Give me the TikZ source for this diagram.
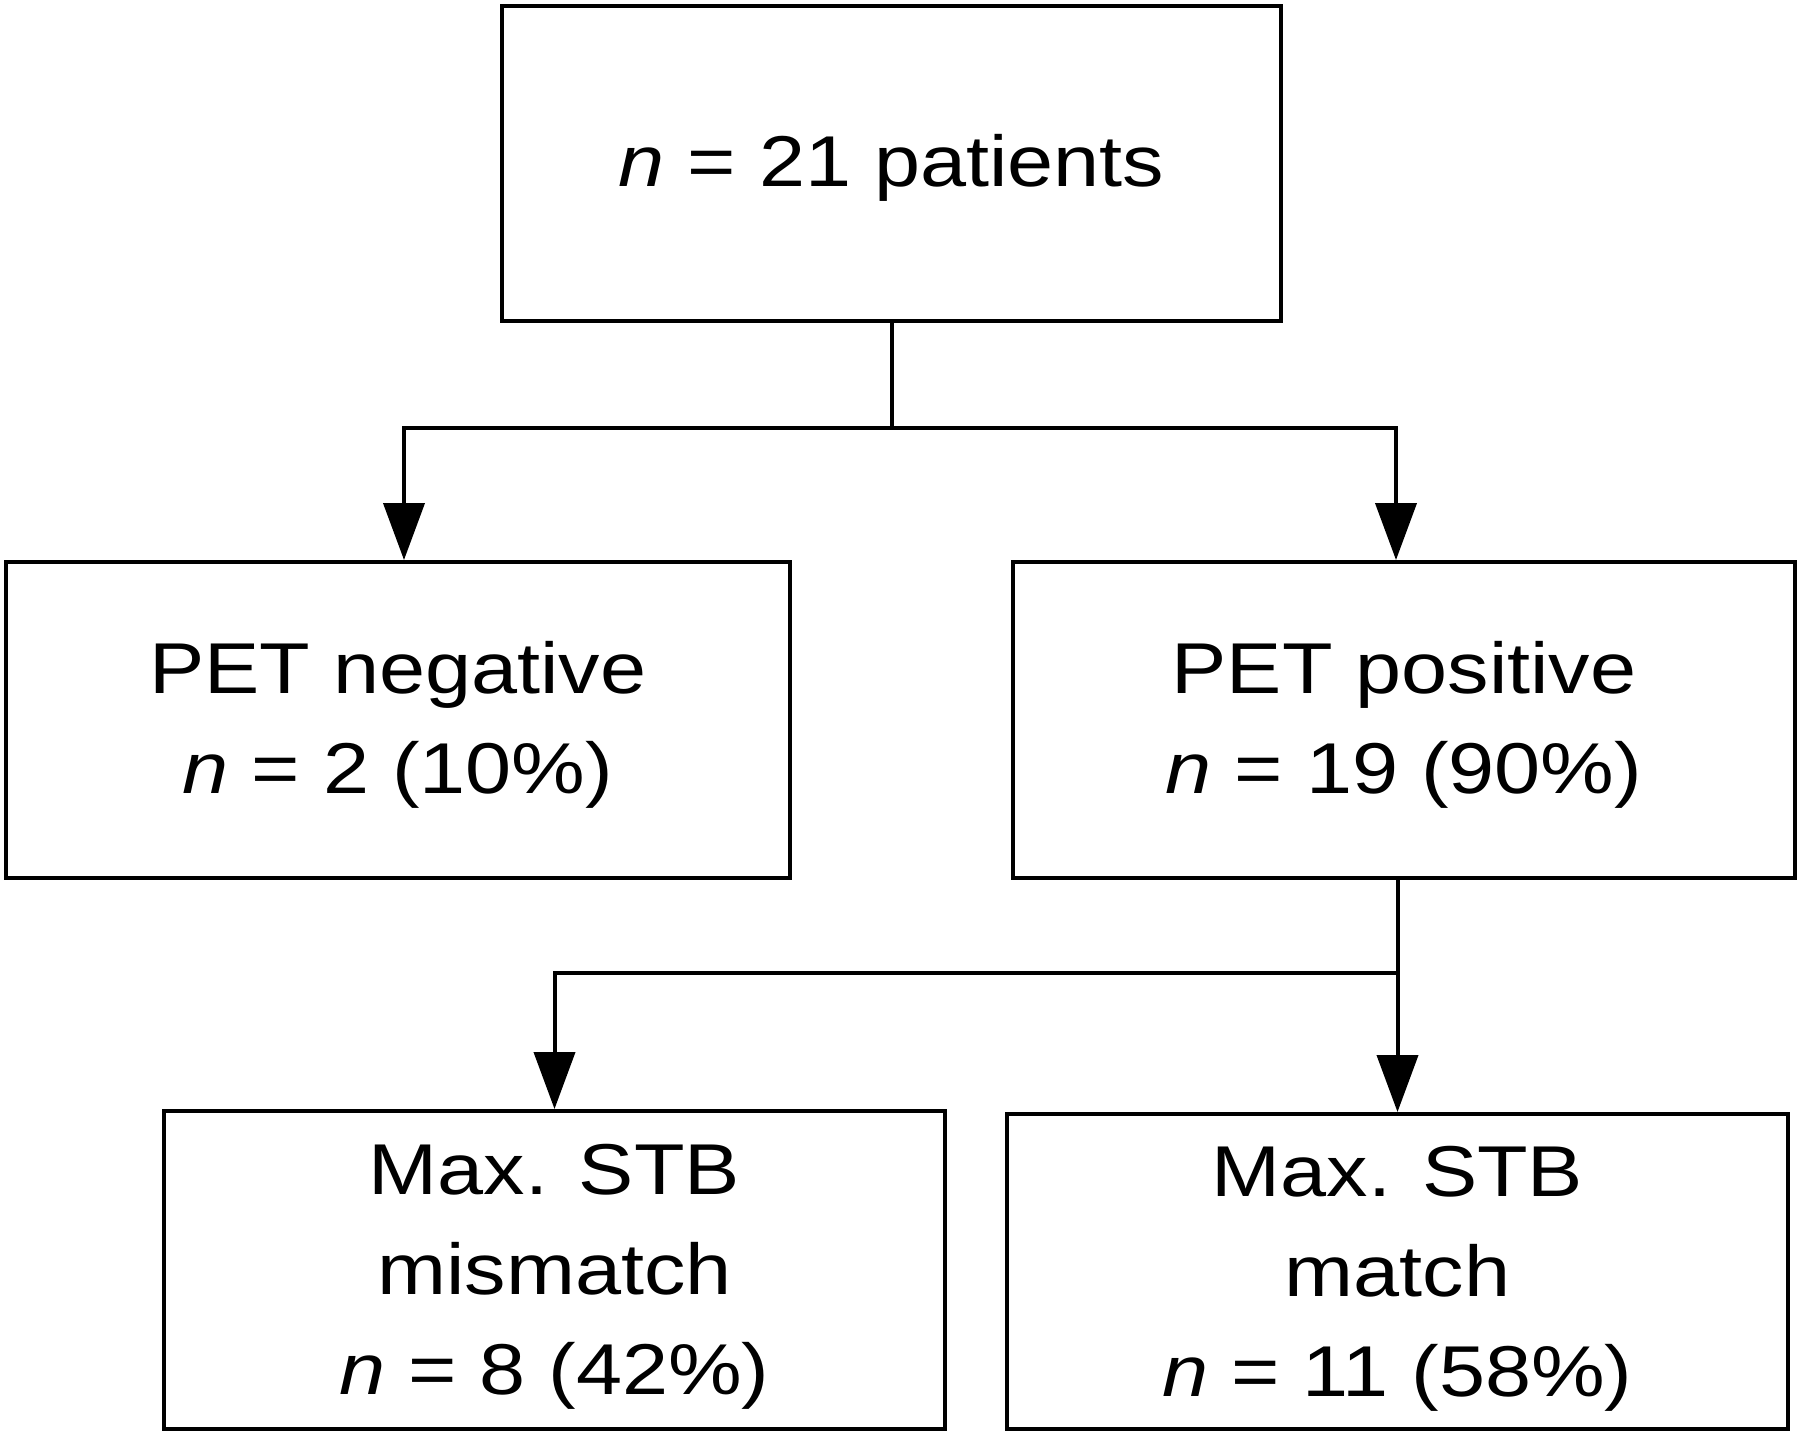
\documentclass[tikz,border=0pt]{standalone}
\usepackage{fontspec}
\setmainfont{Liberation Sans}[FakeStretch=1.15]
\usetikzlibrary{arrows.meta}
\begin{document}
\begin{tikzpicture}[x=0.5pt,y=-0.5pt,
  box/.style={draw=black, line width=2pt, rectangle, align=center,
    font=\fontsize{36pt}{50pt}\selectfont, inner sep=0pt},
  conn/.style={draw=black, line width=2pt},
  arr/.style={conn, -{Triangle[length=28.5pt,width=20.5pt]}}]
\useasboundingbox (0,0) rectangle (1800,1437);
\node[box, minimum width=389.5pt, minimum height=157.5pt] (top) at (891.5,163.5) {\rule{0pt}{30pt}\textit{n} = 21 patients};
\node[box, minimum width=392pt, minimum height=158pt] (neg) at (398,720) {\rule{0pt}{31pt}PET negative\\\textit{n} = 2 (10\%)};
\node[box, minimum width=391pt, minimum height=158pt] (pos) at (1404,720) {\rule{0pt}{31pt}PET positive\\\textit{n} = 19 (90\%)};
\node[box, minimum width=390.5pt, minimum height=159pt] (mis) at (554.5,1270) {\rule{0pt}{32pt}Max. STB\\mismatch\\\textit{n} = 8 (42\%)};
\node[box, minimum width=390.5pt, minimum height=157.5pt] (mat) at (1397.5,1271.5) {\rule{0pt}{32pt}Max. STB\\match\\\textit{n} = 11 (58\%)};
\coordinate (j1) at (891.5,428);
\coordinate (j2) at (1397.5,973);
\draw[conn] (top.south) -- (j1);
\draw[arr] (j1) -| ([xshift=3pt]neg.north);
\draw[arr] (j1) -| ([xshift=-4pt]pos.north);
\draw[conn] (pos.south -| j2) -- (j2);
\draw[arr] (j2) -- (mat.north);
\draw[arr] (j2) -| (mis.north);
\end{tikzpicture}
\end{document}
